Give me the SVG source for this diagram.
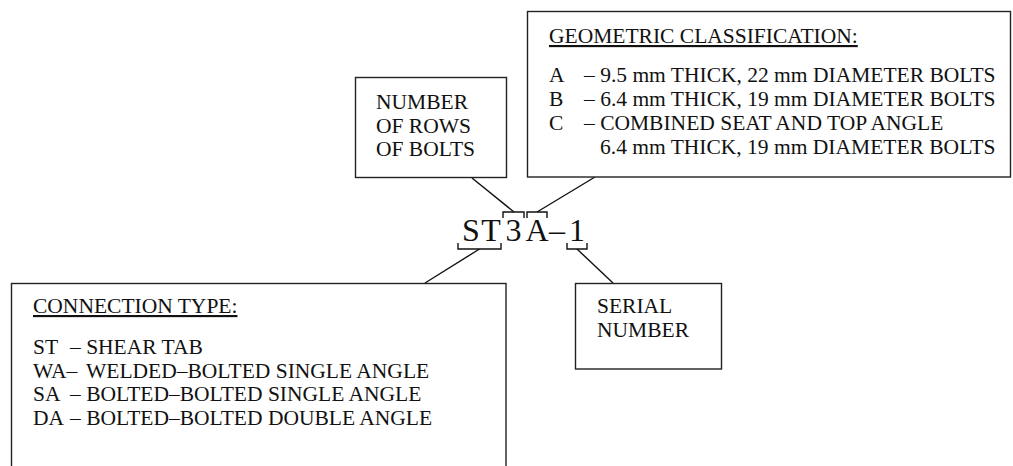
<svg xmlns="http://www.w3.org/2000/svg" width="1013" height="466" viewBox="0 0 1013 466">
<style>
.box{fill:#fff;stroke:#222;stroke-width:1.4}
.ln{fill:none;stroke:#111;stroke-width:1.4}
.t{font-family:"Liberation Serif","Times New Roman",serif;font-size:21.5px;fill:#111}
.u{text-decoration:underline}
.big{font-family:"Liberation Serif","Times New Roman",serif;font-size:32px;fill:#111;text-anchor:middle}
</style>
<rect width="1013" height="466" fill="#fff"/>
<g id="connectors">
<line class="ln" x1="472" y1="178" x2="514" y2="212"/>
<line class="ln" x1="595" y1="177" x2="537" y2="212"/>
<line class="ln" x1="479.5" y1="249" x2="425" y2="283"/>
<line class="ln" x1="577" y1="249" x2="613" y2="283"/>
<path class="ln" d="M503,218 V212 H524 V218"/>
<path class="ln" d="M527,218 V212 H547 V218"/>
<path class="ln" d="M458,243 V249 H501 V243"/>
<path class="ln" d="M567,243 V249 H587 V243"/>
</g>
<g id="code">
<text class="big" x="471" y="241">S</text>
<text class="big" x="491" y="241">T</text>
<text class="big" x="513.5" y="241">3</text>
<text class="big" x="537" y="241">A</text>
<text class="big" x="557" y="241">–</text>
<text class="big" x="577" y="241">1</text>
</g>
<g id="rows-box">
<rect class="box" x="355.5" y="77.5" width="151" height="100"/>
<text class="t" x="376" y="109">NUMBER</text>
<text class="t" x="376" y="132.5">OF ROWS</text>
<text class="t" x="376" y="156">OF BOLTS</text>
</g>
<g id="geometric-box">
<rect class="box" x="527.5" y="11.5" width="483" height="165.5"/>
<text class="t u" x="549" y="43">GEOMETRIC CLASSIFICATION:</text>
<text class="t" x="549" y="82">A</text>
<text class="t" x="584" y="82">– 9.5 mm THICK, 22 mm DIAMETER BOLTS</text>
<text class="t" x="549" y="106">B</text>
<text class="t" x="584" y="106">– 6.4 mm THICK, 19 mm DIAMETER BOLTS</text>
<text class="t" x="549" y="130">C</text>
<text class="t" x="584" y="130">– COMBINED SEAT AND TOP ANGLE</text>
<text class="t" x="600" y="154">6.4 mm THICK, 19 mm DIAMETER BOLTS</text>
</g>
<g id="connection-box">
<rect class="box" x="11.5" y="283.5" width="494.5" height="190"/>
<text class="t u" x="33" y="313">CONNECTION TYPE:</text>
<text class="t" x="33" y="354">ST</text>
<text class="t" x="70" y="354">– SHEAR TAB</text>
<text class="t" x="33" y="377.5">WA–</text>
<text class="t" x="86" y="377.5">WELDED–BOLTED SINGLE ANGLE</text>
<text class="t" x="33" y="401">SA</text>
<text class="t" x="70" y="401">– BOLTED–BOLTED SINGLE ANGLE</text>
<text class="t" x="33" y="424.5">DA</text>
<text class="t" x="70" y="424.5">– BOLTED–BOLTED DOUBLE ANGLE</text>
</g>
<g id="serial-box">
<rect class="box" x="575.5" y="283.5" width="146" height="85.5"/>
<text class="t" x="597" y="313">SERIAL</text>
<text class="t" x="597" y="337">NUMBER</text>
</g>
</svg>
